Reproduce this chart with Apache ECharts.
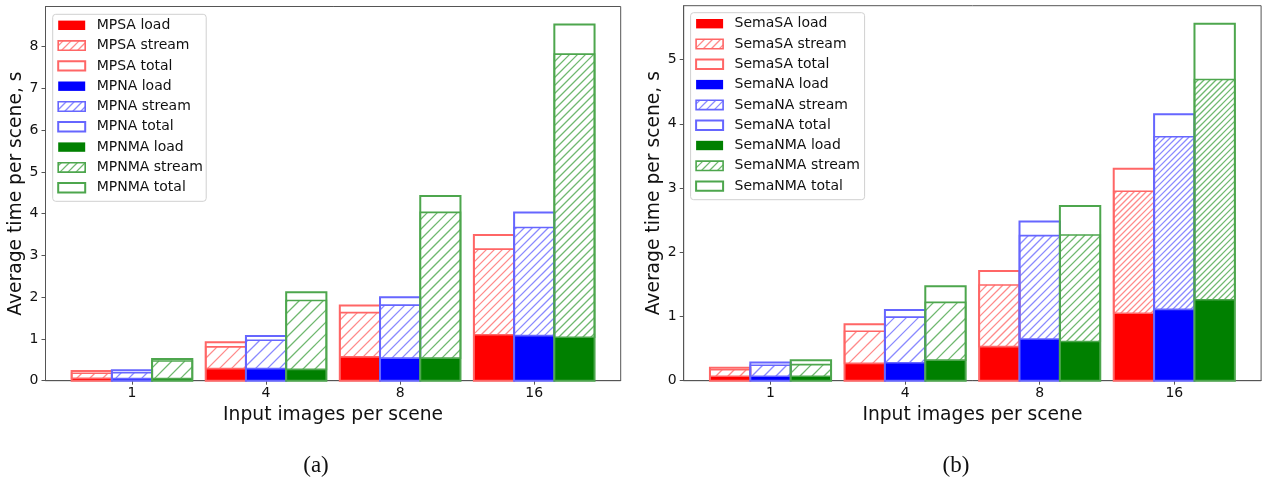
<!DOCTYPE html>
<html>
<head>
<meta charset="utf-8">
<script src="https://cdn.jsdelivr.net/npm/echarts@6/dist/echarts.min.js"></script>
<style>
  html, body { margin: 0; padding: 0; background: #fff; }
  #chart { width: 1271px; height: 481px; }
</style>
</head>
<body>
<div id="chart"></div>
<script>
// categories and ticks
const categories = ['1', '4', '8', '16'];
const yTicksA = [0, 1, 2, 3, 4, 5, 6, 7, 8];
const yTicksB = [0, 1, 2, 3, 4, 5];

// (a) load / stream (segment on top of load) / total, seconds
const mpsaLoad = [0.06, 0.29, 0.57, 1.10];
const mpsaStream = [0.12, 0.52, 1.06, 2.05];
const mpsaTotal = [0.23, 0.92, 1.80, 3.49];
const mpnaLoad = [0.05, 0.29, 0.54, 1.08];
const mpnaStream = [0.14, 0.68, 1.27, 2.59];
const mpnaTotal = [0.25, 1.07, 2.00, 4.03];
const mpnmaLoad = [0.05, 0.27, 0.54, 1.04];
const mpnmaStream = [0.42, 1.65, 3.49, 6.78];
const mpnmaTotal = [0.52, 2.12, 4.42, 8.53];

// (b)
const semaSaLoad = [0.07, 0.27, 0.53, 1.05];
const semaSaStream = [0.10, 0.50, 0.96, 1.90];
const semaSaTotal = [0.20, 0.88, 1.71, 3.30];
const semaNaLoad = [0.07, 0.28, 0.65, 1.11];
const semaNaStream = [0.17, 0.71, 1.61, 2.69];
const semaNaTotal = [0.285, 1.10, 2.48, 4.15];
const semaNmaLoad = [0.07, 0.32, 0.61, 1.26];
const semaNmaStream = [0.18, 0.90, 1.66, 3.43];
const semaNmaTotal = [0.32, 1.47, 2.72, 5.56];

const namesA = ['MPSA', 'MPNA', 'MPNMA'];
const namesB = ['SemaSA', 'SemaNA', 'SemaNMA'];

const solid = ['#ff0000', '#0000ff', '#008000'];
const edge = ['#ff6666', '#6666ff', '#4da64d'];
const hatchColor = ['#ff8a8a', '#8a8aff', '#6fb86f'];
const barW = 0.3;
const offsets = [-0.3, 0, 0.3];
// hatch period per category (denser on taller groups, as in the figure)
const hatchStepA = [13, 12, 10, 8];
const hatchStepB = [12, 12, 8, 6];

// 45 degree hatch lines clipped to a rectangle
function hatchLines(x, y, w, h, step, color) {
  const out = [];
  const kStart = Math.ceil((x + y) / step) * step;
  for (let K = kStart; K < x + w + y + h; K += step) {
    const c = K - y - h - x;
    const t0 = Math.max(0, -c), t1 = Math.min(h, w - c);
    if (t1 <= t0) continue;
    out.push({
      type: 'line',
      shape: { x1: x + c + t0, y1: y + h - t0, x2: x + c + t1, y2: y + h - t1 },
      style: { stroke: color, lineWidth: 1.3 },
      silent: true
    });
  }
  return out;
}

function makeSeries(panel, k, name, load, stream, total, steps) {
  return {
    type: 'custom',
    name: name,
    xAxisIndex: panel,
    yAxisIndex: panel,
    data: load.map((v, i) => [i + offsets[k], v, stream[i], total[i]]),
    renderItem: function (params, api) {
      const x = api.value(0);
      const l = api.value(1), s = api.value(2), t = api.value(3);
      const w = api.size([barW, 0])[0];
      const p0 = api.coord([x, 0]);
      const pL = api.coord([x, l]);
      const pS = api.coord([x, l + s]);
      const pT = api.coord([x, t]);
      const left = p0[0] - w / 2;
      const sh = pL[1] - pS[1];
      return {
        type: 'group',
        children: [
          { type: 'rect', shape: { x: left, y: pL[1], width: w, height: p0[1] - pL[1] },
            style: { fill: solid[k] } }
        ].concat(hatchLines(left, pS[1], w, sh, steps[params.dataIndex], hatchColor[k]), [
          { type: 'rect', shape: { x: left, y: pS[1], width: w, height: sh },
            style: { fill: 'none', stroke: edge[k], lineWidth: 1.6 } },
          { type: 'rect', shape: { x: left, y: pT[1], width: w, height: p0[1] - pT[1] },
            style: { fill: 'none', stroke: edge[k], lineWidth: 2 } }
        ])
      };
    }
  };
}

function legend(names, x, y, w) {
  const children = [{
    type: 'rect', shape: { x: x, y: y, width: w, height: 187, r: 3 },
    style: { fill: 'rgba(255,255,255,0.8)', stroke: '#d0d0d0', lineWidth: 1 }
  }];
  const kinds = ['load', 'stream', 'total'];
  let row = 0;
  names.forEach((n, k) => {
    kinds.forEach((kind) => {
      const cy = y + 11 + row * 20.3;
      const px = x + 5.5, py = cy - 4.7, pw = 27, ph = 9.4;
      if (kind === 'load') {
        children.push({ type: 'rect', shape: { x: px, y: py, width: pw, height: ph }, style: { fill: solid[k] } });
      } else if (kind === 'stream') {
        hatchLines(px, py, pw, ph, 8, hatchColor[k]).forEach(e => children.push(e));
        children.push({ type: 'rect', shape: { x: px, y: py, width: pw, height: ph },
          style: { fill: 'none', stroke: edge[k], lineWidth: 1.6 } });
      } else {
        children.push({ type: 'rect', shape: { x: px, y: py, width: pw, height: ph },
          style: { fill: '#fff', stroke: edge[k], lineWidth: 2 } });
      }
      children.push({ type: 'text', x: x + 44, y: cy,
        style: { text: n + ' ' + kind, fontSize: 14, fontFamily: 'DejaVu Sans', fill: '#111', verticalAlign: 'middle' } });
      row++;
    });
  });
  return { type: 'group', children: children };
}

const axisColor = '#555';
function xAxis(i) {
  return {
    type: 'value', gridIndex: i, min: -0.645, max: 3.645,
    axisLine: { onZero: false, lineStyle: { color: axisColor } },
    axisTick: { length: 4, customValues: [0, 1, 2, 3], lineStyle: { color: axisColor } },
    axisLabel: { customValues: [0, 1, 2, 3], formatter: v => categories[Math.round(v)],
      fontSize: 14, color: '#111', margin: 6 },
    splitLine: { show: false },
    name: 'Input images per scene', nameLocation: 'middle', nameGap: 17.5,
    nameTextStyle: { fontSize: 18.7, color: '#111' }
  };
}
function yAxis(i, max, ticks) {
  return {
    type: 'value', gridIndex: i, min: 0, max: max,
    axisLine: { show: true, onZero: false, lineStyle: { color: axisColor } },
    axisTick: { show: true, length: 4, customValues: ticks, lineStyle: { color: axisColor } },
    axisLabel: { customValues: ticks, fontSize: 14, color: '#111', margin: 7 },
    splitLine: { show: false },
    name: 'Average time per scene, s', nameLocation: 'middle', nameGap: 18,
    nameTextStyle: { fontSize: 18.7, color: '#111' }
  };
}

const chart = echarts.init(document.getElementById('chart'), null, { renderer: 'canvas' });
chart.setOption({
  animation: false,
  textStyle: { fontFamily: 'DejaVu Sans' },
  grid: [
    { left: 45.5, top: 6.5, width: 575.2, height: 374.2, show: true, borderColor: axisColor, borderWidth: 1 },
    { left: 683.7, top: 5.7, width: 577.4, height: 375, show: true, borderColor: axisColor, borderWidth: 1 }
  ],
  xAxis: [xAxis(0), xAxis(1)],
  yAxis: [yAxis(0, 8.96, yTicksA), yAxis(1, 5.84, yTicksB)],
  series: [
    makeSeries(0, 0, namesA[0], mpsaLoad, mpsaStream, mpsaTotal, hatchStepA),
    makeSeries(0, 1, namesA[1], mpnaLoad, mpnaStream, mpnaTotal, hatchStepA),
    makeSeries(0, 2, namesA[2], mpnmaLoad, mpnmaStream, mpnmaTotal, hatchStepA),
    makeSeries(1, 0, namesB[0], semaSaLoad, semaSaStream, semaSaTotal, hatchStepB),
    makeSeries(1, 1, namesB[1], semaNaLoad, semaNaStream, semaNaTotal, hatchStepB),
    makeSeries(1, 2, namesB[2], semaNmaLoad, semaNmaStream, semaNmaTotal, hatchStepB)
  ],
  graphic: [
    legend(namesA, 52.7, 14.3, 153.5),
    legend(namesB, 690.6, 12.7, 174),
    { type: 'text', x: 316, y: 466, style: { text: '(a)', fontSize: 23, fontFamily: 'Liberation Serif', fill: '#111', align: 'center', verticalAlign: 'middle' } },
    { type: 'text', x: 956, y: 466, style: { text: '(b)', fontSize: 23, fontFamily: 'Liberation Serif', fill: '#111', align: 'center', verticalAlign: 'middle' } }
  ]
});
</script>
</body>
</html>
